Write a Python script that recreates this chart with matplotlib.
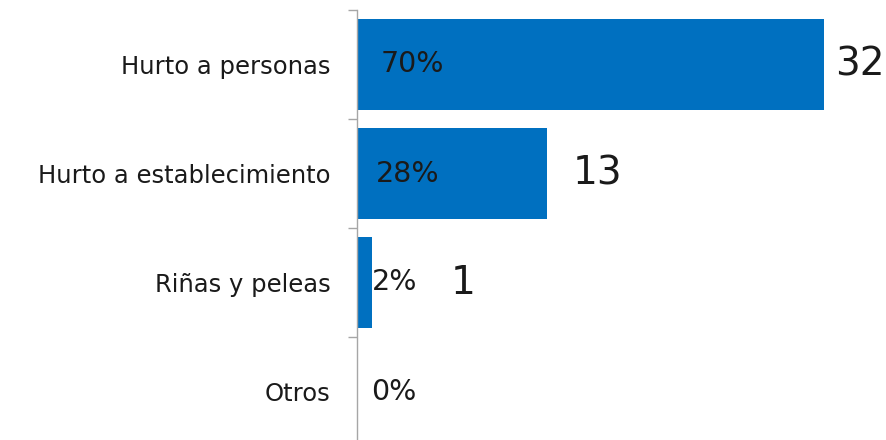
import matplotlib
matplotlib.use("Agg")
import matplotlib.pyplot as plt
from matplotlib.ticker import FixedLocator, NullFormatter

categories = ["Hurto a personas", "Hurto a establecimiento", "Riñas y peleas", "Otros"]
counts = [32, 13, 1, 0]
percent_labels = ["70%", "28%", "2%", "0%"]

# label placement (pixels)
pct_offsets_px = [24, 19, 15, 14]
val_offsets_px = [11, 26, 79, 0]

W, H = 886, 440
DPI = 100
fig = plt.figure(figsize=(W / DPI, H / DPI), dpi=DPI)
plt.rcParams['font.family'] = ['DejaVu Sans']

left_px, top_px, bottom_px, right_px = 357, 10, 446, 886
ax = fig.add_axes([left_px / W, 1 - bottom_px / H, (right_px - left_px) / W, (bottom_px - top_px) / H])

px_per_unit = 467 / 32
ax.set_xlim(0, (right_px - left_px) / px_per_unit)
ax.set_ylim(len(categories) - 0.5, -0.5)

ypos = list(range(len(categories)))
ax.barh(ypos, counts, height=0.835, color="#0070C0", zorder=2)

px2pt = 72 / DPI
for i, (c, p) in enumerate(zip(counts, percent_labels)):
    ax.annotate(p, xy=(0, i), xytext=(pct_offsets_px[i] * px2pt, 0), textcoords="offset points",
                ha="left", va="center", fontsize=20.5, color="#1a1a1a", zorder=3)
    if c > 0:
        ax.annotate(str(c), xy=(c, i), xytext=(val_offsets_px[i] * px2pt, 0), textcoords="offset points",
                    ha="left", va="center", fontsize=28, color="#1a1a1a", zorder=3)

ax.set_yticks(ypos)
ax.set_yticklabels(categories, fontsize=17.5, color="#1a1a1a")
ax.tick_params(axis="y", which="major", length=0, pad=19)
ax.yaxis.set_minor_locator(FixedLocator([-0.5, 0.5, 1.5, 2.5, 3.5]))
ax.yaxis.set_minor_formatter(NullFormatter())
ax.tick_params(axis="y", which="minor", length=6.5, width=1, color="#a6a6a6")

ax.set_xticks([])
for s in ["top", "right", "bottom"]:
    ax.spines[s].set_visible(False)
ax.spines["left"].set_color("#a6a6a6")
ax.spines["left"].set_linewidth(1)

fig.savefig("out.png", dpi=DPI)
